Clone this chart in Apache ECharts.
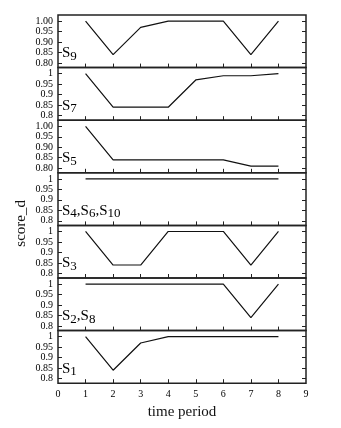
<!DOCTYPE html>
<html>
<head>
<meta charset="utf-8">
<script src="https://cdn.jsdelivr.net/npm/echarts@6/dist/echarts.min.js"></script>
<style>
  html, body { margin: 0; padding: 0; background: #fff; }
  #chart { width: 341px; height: 428px; }
</style>
</head>
<body>
<div id="chart"></div>
<script>
// time periods on the x axis
const periods = [1, 2, 3, 4, 5, 6, 7, 8]
const xTicks = [0, 1, 2, 3, 4, 5, 6, 7, 8, 9]
const yTicks = [0.8, 0.85, 0.9, 0.95, 1.0]

// score_d per panel, top to bottom
const s9 = [1, 0.84, 0.97, 1, 1, 1, 0.84, 1]
const s7 = [1, 0.84, 0.84, 0.84, 0.97, 0.99, 0.99, 1]
const s5 = [1, 0.84, 0.84, 0.84, 0.84, 0.84, 0.81, 0.81]
const s4s6s10 = [1, 1, 1, 1, 1, 1, 1, 1]
const s3 = [1, 0.84, 0.84, 1, 1, 1, 0.84, 1]
const s2s8 = [1, 1, 1, 1, 1, 1, 0.84, 1]
const s1 = [1, 0.84, 0.97, 1, 1, 1, 1, 1]

const panelData = [s9, s7, s5, s4s6s10, s3, s2s8, s1]
const panelNames = ['{s|S}{d|9}', '{s|S}{d|7}', '{s|S}{d|5}',
  '{s|S}{d|4}{s|,S}{d|6}{s|,S}{d|10}', '{s|S}{d|3}', '{s|S}{d|2}{s|,S}{d|8}', '{s|S}{d|1}']
const fixedTwo = [true, false, true, false, false, false, false] // "1.00" style labels

const font = 'Liberation Serif, DejaVu Serif, serif'
const top0 = 15
const panelH = 52.6
const left = 58
const right = 35

const grid = []
const xAxis = []
const yAxis = []
const series = []
const graphic = []

panelData.forEach((vals, i) => {
  const last = i === panelData.length - 1
  grid.push({
    left: left, right: right, top: top0 + i * panelH, height: panelH,
    show: true, borderColor: '#222', borderWidth: 1.5, backgroundColor: 'transparent'
  })
  xAxis.push({
    type: 'value', gridIndex: i, min: 0, max: 9, interval: 1,
    axisLine: { show: false },
    axisTick: { show: true, inside: true, length: 4, customValues: periods,
      lineStyle: { color: '#222', width: 1 } },
    axisLabel: { show: last, customValues: xTicks, fontFamily: font, fontSize: 10,
      color: '#000', margin: 6 },
    splitLine: { show: false },
    name: last ? 'time period' : '', nameLocation: 'middle', nameGap: 21,
    nameTextStyle: { fontFamily: font, fontSize: 15, color: '#111' }
  })
  const fmt = v => fixedTwo[i] ? v.toFixed(2) : String(+v.toFixed(2))
  yAxis.push({
    type: 'value', gridIndex: i, min: 0.778, max: 1.029,
    axisLine: { show: false },
    axisTick: { show: true, inside: true, length: 4, customValues: yTicks,
      lineStyle: { color: '#222', width: 1 } },
    axisLabel: { customValues: yTicks, formatter: fmt, fontFamily: font, fontSize: 10,
      color: '#000', margin: 5 },
    splitLine: { show: false }
  })
  yAxis.push({
    type: 'value', gridIndex: i, min: 0.778, max: 1.029, position: 'right',
    axisLine: { show: false },
    axisTick: { show: true, inside: true, length: 4, customValues: yTicks,
      lineStyle: { color: '#222', width: 1 } },
    axisLabel: { show: false },
    splitLine: { show: false }
  })
  series.push({
    type: 'line', xAxisIndex: i, yAxisIndex: i * 2,
    data: periods.map((p, k) => [p, vals[k]]),
    symbol: 'none', silent: true,
    lineStyle: { color: '#111', width: 1.2 }
  })
  graphic.push({
    type: 'text', left: left + 4, top: top0 + i * panelH + panelH - 22,
    style: {
      text: panelNames[i],
      rich: {
        s: { fontFamily: font, fontSize: 15, color: '#111', verticalAlign: 'top', lineHeight: 18 },
        d: { fontFamily: font, fontSize: 13, color: '#111', verticalAlign: 'top', lineHeight: 18, padding: [4, 0, 0, 0] }
      }
    }
  })
})

graphic.push({
  type: 'text', left: 14, top: 200, rotation: Math.PI / 2,
  style: { text: 'score_d', fontFamily: font, fontSize: 15, fill: '#111',
    align: 'center', verticalAlign: 'middle' }
})

const chart = echarts.init(document.getElementById('chart'))
chart.setOption({
  animation: false,
  grid, xAxis, yAxis, series, graphic
})
</script>
</body>
</html>
